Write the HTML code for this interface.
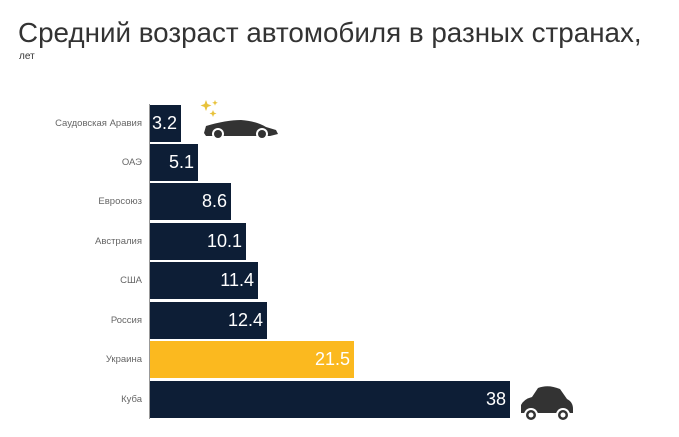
<!DOCTYPE html>
<html><head><meta charset="utf-8"><style>
body{margin:0;width:679px;height:437px;background:#fff;font-family:"Liberation Sans",sans-serif;position:relative;overflow:hidden}
.t{position:absolute;left:18px;top:17px;font-size:27.8px;color:#333;white-space:nowrap}
.s{position:absolute;left:19px;top:51px;font-size:10px;color:#333}
.l{position:absolute;right:537px;font-size:9.5px;color:#666;text-align:right;white-space:nowrap}
.b{position:absolute;left:150px;height:37px;background:#0d1e36;color:#fff;font-size:18px;text-align:right;box-sizing:border-box;padding-right:4px;line-height:37px}
.ax{position:absolute;left:149px;top:104px;width:1px;height:315px;background:#999}
</style></head><body>
<div class="t">Средний возраст автомобиля в разных странах,</div>
<div class="s">лет</div>
<div class="ax"></div>
<div class="l" style="top:118px">Саудовская Аравия</div><div class="b" style="top:105px;width:31px">3.2</div>
<div class="l" style="top:157px">ОАЭ</div><div class="b" style="top:144px;width:48px">5.1</div>
<div class="l" style="top:196px">Евросоюз</div><div class="b" style="top:183px;width:81px">8.6</div>
<div class="l" style="top:236px">Австралия</div><div class="b" style="top:223px;width:96px">10.1</div>
<div class="l" style="top:275px">США</div><div class="b" style="top:262px;width:108px">11.4</div>
<div class="l" style="top:315px">Россия</div><div class="b" style="top:302px;width:117px">12.4</div>
<div class="l" style="top:354px">Украина</div><div class="b" style="top:341px;width:204px;background:#fbb91f">21.5</div>
<div class="l" style="top:394px">Куба</div><div class="b" style="top:381px;width:360px">38</div>
<svg style="position:absolute;left:196px;top:98px" width="85" height="45">
<g fill="#e8c23a"><path d="M10 2l1.5 4 4 1.5-4 1.5-1.5 4-1.5-4-4-1.5 4-1.5z"/><path d="M17 12l1 2.5 2.5 1-2.5 1-1 2.5-1-2.5-2.5-1 2.5-1z"/><path d="M19 2l.8 2 2 .8-2 .8-.8 2-.8-2-2-.8 2-.8z"/></g>
<path d="M8 35 L10 28 Q30 22 45 22 Q60 23 70 29 L80 32 L82 36 L74 38 L20 38 L10 38 Z" fill="#333"/>
<circle cx="22" cy="36" r="6" fill="#fff"/><circle cx="22" cy="36" r="4" fill="#333"/>
<circle cx="66" cy="36" r="6" fill="#fff"/><circle cx="66" cy="36" r="4" fill="#333"/>
</svg>
<svg style="position:absolute;left:518px;top:385px" width="58" height="40">
<path d="M3 28 L3 20 Q6 14 14 12 L20 3 Q30 -1 42 4 L49 14 Q55 17 55 24 L55 28 Z" fill="#333"/>
<circle cx="13" cy="30" r="7" fill="#fff"/><circle cx="13" cy="30" r="5" fill="#333"/><circle cx="13" cy="30" r="2.5" fill="#fff"/>
<circle cx="45" cy="30" r="7" fill="#fff"/><circle cx="45" cy="30" r="5" fill="#333"/><circle cx="45" cy="30" r="2.5" fill="#fff"/>
</svg>
</body></html>
